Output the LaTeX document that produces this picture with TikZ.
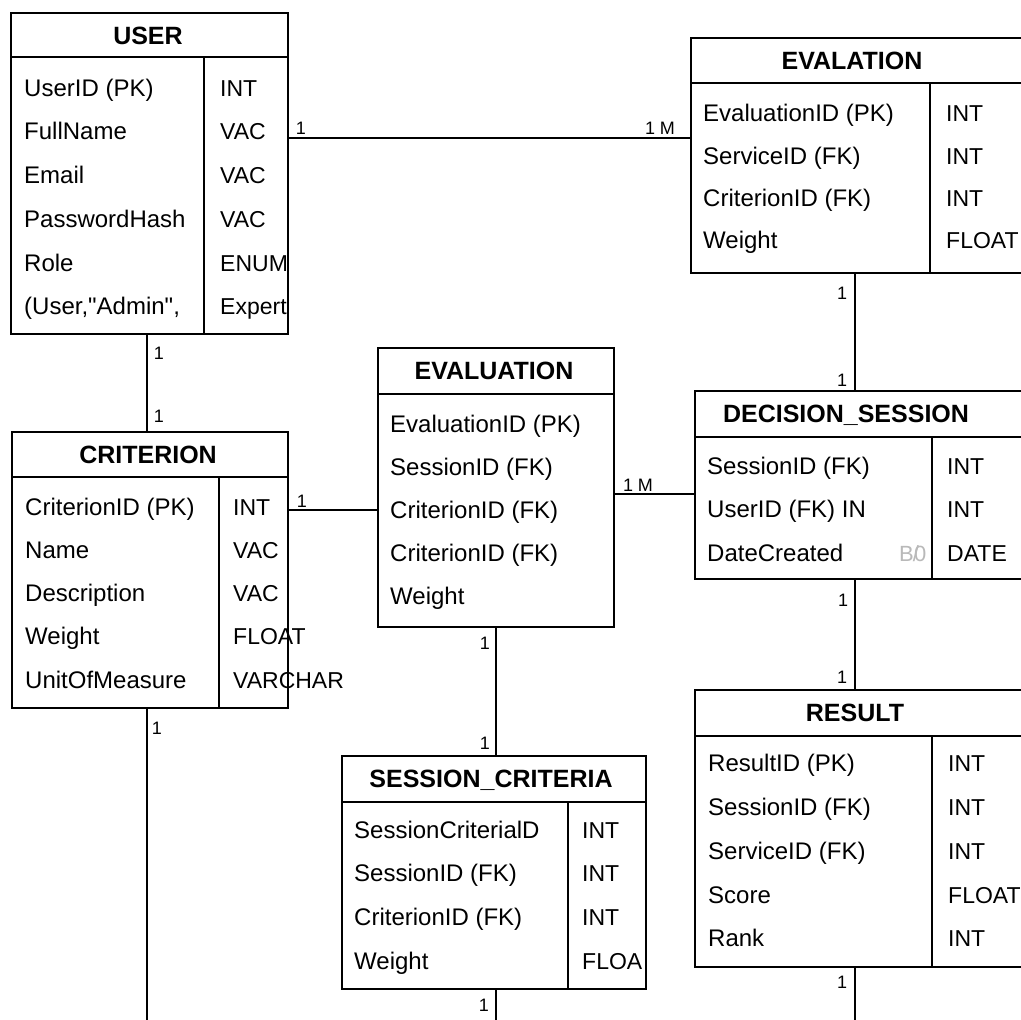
\documentclass[tikz,border=0pt]{standalone}
\usepackage{fontspec}
\setmainfont{Liberation Sans}
\newfontfamily\straightfont{Liberation Sans}[Ligatures=TeXOff]
\usetikzlibrary{calc}
\definecolor{ghost}{RGB}{185,185,185}
\tikzset{
  tbl/.style={draw, line width=2pt, anchor=north west, inner sep=0pt},
  rule/.style={line width=2pt},
  conn/.style={line width=1.6pt},
  ttl/.style={anchor=base, font=\fontsize{25}{30}\selectfont\bfseries, inner sep=0pt},
  fld/.style={anchor=base west, font=\fontsize{24}{29}\selectfont, inner sep=0pt},
  typ/.style={anchor=base west, font=\fontsize{23}{28}\selectfont, inner sep=0pt},
  card/.style={font=\fontsize{18}{21}\selectfont, inner sep=0pt},
}
\begin{document}
\begin{tikzpicture}[x=1pt,y=-1pt]
\useasboundingbox (0,0) rectangle (1021,1020);
\fill[white] (0,0) rectangle (1021,1020);
\clip (0,0) rectangle (1021,1020);

% ---------- table frames ----------
\node[tbl, minimum width=277pt, minimum height=321pt] (user)       at (10,12)   {};
\node[tbl, minimum width=334pt, minimum height=235pt] (evalation)  at (690,37)  {};
\node[tbl, minimum width=276pt, minimum height=276pt] (crit)       at (11,431)  {};
\node[tbl, minimum width=236pt, minimum height=279pt] (evaluation) at (377,347) {};
\node[tbl, minimum width=330pt, minimum height=188pt] (decision)   at (694,390) {};
\node[tbl, minimum width=304pt, minimum height=233pt] (sessc)      at (341,755) {};
\node[tbl, minimum width=330pt, minimum height=277pt] (result)     at (694,689) {};

% ---------- header rules and column dividers ----------
\draw[rule] (10,57) -- (287,57);    \draw[rule] (204,57) -- (204,333);
\draw[rule] (690,83) -- (1024,83);  \draw[rule] (930,83) -- (930,272);
\draw[rule] (11,477) -- (287,477);  \draw[rule] (219,477) -- (219,707);
\draw[rule] (377,394) -- (613,394);
\draw[rule] (694,437) -- (1024,437); \draw[rule] (932,437) -- (932,578);
\draw[rule] (341,802) -- (645,802); \draw[rule] (568,802) -- (568,988);
\draw[rule] (694,736) -- (1024,736); \draw[rule] (932,736) -- (932,966);

% ---------- USER ----------
\node[ttl] (userT) at (148,44) {USER};
\node[fld] (u1) at (24,96.5)  {UserID (PK)};
\node[fld] (u2) at (24,139.5) {FullName};
\node[fld] (u3) at (24,183.5) {Email};
\node[fld] (u4) at (24,227.5) {PasswordHash};
\node[fld] (u5) at (24,271.5) {Role};
\node[fld] (u6) at (24,314.5) {\straightfont (User,"Admin",};
\node[typ] (ut1) at (220,96.5)  {INT};
\node[typ] (ut2) at (220,139.5) {VAC};
\node[typ] (ut3) at (220,183.5) {VAC};
\node[typ] (ut4) at (220,227.5) {VAC};
\node[typ] (ut5) at (220,271.5) {ENUM};
\node[typ] (ut6) at (220,314.5) {Expert};

% ---------- EVALATION ----------
\node[ttl] (evT) at (852,69) {EVALATION};
\node[fld] (e1) at (703,121)   {EvaluationID (PK)};
\node[fld] (e2) at (703,164.5) {ServiceID (FK)};
\node[fld] (e3) at (703,206.5) {CriterionID (FK)};
\node[fld] (e4) at (703,248.5) {Weight};
\node[typ] (et1) at (946,121)   {INT};
\node[typ] (et2) at (946,164.5) {INT};
\node[typ] (et3) at (946,206.5) {INT};
\node[typ] (et4) at (946,248.5) {FLOAT};

% ---------- CRITERION ----------
\node[ttl] (crT) at (148,463) {CRITERION};
\node[fld] (c1) at (25,515.5) {CriterionID (PK)};
\node[fld] (c2) at (25,558.5) {Name};
\node[fld] (c3) at (25,601.5) {Description};
\node[fld] (c4) at (25,644.5) {Weight};
\node[fld] (c5) at (25,688.5) {UnitOfMeasure};
\node[typ] (ct1) at (233,515.5) {INT};
\node[typ] (ct2) at (233,558.5) {VAC};
\node[typ] (ct3) at (233,601.5) {VAC};
\node[typ] (ct4) at (233,644.5) {FLOAT};
\node[typ] (ct5) at (233,688.5) {VARCHAR};

% ---------- EVALUATION ----------
\node[ttl] (evuT) at (494,379) {EVALUATION};
\node[fld] (v1) at (390,432.5) {EvaluationID (PK)};
\node[fld] (v2) at (390,475.5) {SessionID (FK)};
\node[fld] (v3) at (390,518.5) {CriterionID (FK)};
\node[fld] (v4) at (390,561.5) {CriterionID (FK)};
\node[fld] (v5) at (390,604.5) {Weight};

% ---------- DECISION_SESSION ----------
\node[ttl] (dsT) at (846,422) {DECISION\_SESSION};
\node[fld] (d1) at (707,474.5) {SessionID (FK)};
\node[fld] (d2) at (707,517.5) {UserID (FK) IN};
\node[fld] (d3) at (707,561.5) {DateCreated};
\node[anchor=base west, inner sep=0pt, text=ghost, font=\fontsize{22}{26}\selectfont]
  (dmark) at (899,561.5) {B\kern-1pt/\kern-5pt0};
\node[typ] (dt1) at (947,474.5) {INT};
\node[typ] (dt2) at (947,517.5) {INT};
\node[typ] (dt3) at (947,561.5) {DATE};

% ---------- SESSION_CRITERIA ----------
\node[ttl] (scT) at (491,787) {SESSION\_CRITERIA};
\node[fld] (s1) at (354,838.5) {SessionCriterialD};
\node[fld] (s2) at (354,881.5) {SessionID (FK)};
\node[fld] (s3) at (354,925.5) {CriterionID (FK)};
\node[fld] (s4) at (354,969.5) {Weight};
\node[typ] (st1) at (582,838.5) {INT};
\node[typ] (st2) at (582,881.5) {INT};
\node[typ] (st3) at (582,925.5) {INT};
\node[typ] (st4) at (582,969.5) {FLOA};

% ---------- RESULT ----------
\node[ttl] (rsT) at (855,721) {RESULT};
\node[fld] (r1) at (708,771.5) {ResultID (PK)};
\node[fld] (r2) at (708,815.5) {SessionID (FK)};
\node[fld] (r3) at (708,859.5) {ServiceID (FK)};
\node[fld] (r4) at (708,903.5) {Score};
\node[fld] (r5) at (708,946.5) {Rank};
\node[typ] (rt1) at (948,771.5) {INT};
\node[typ] (rt2) at (948,815.5) {INT};
\node[typ] (rt3) at (948,859.5) {INT};
\node[typ] (rt4) at (948,903.5) {FLOAT};
\node[typ] (rt5) at (948,946.5) {INT};

% ---------- connector guides ----------
\coordinate (yUE) at (0,138);
\coordinate (yCE) at (0,510);
\coordinate (yED) at (0,494);
\coordinate (xL)  at (147,0);
\coordinate (xM)  at (496,0);
\coordinate (xR)  at (855,0);
\coordinate (bottomL) at (147,1024);
\coordinate (bottomM) at (496,1024);
\coordinate (bottomR) at (855,1024);

% ---------- relationships ----------
\draw[conn] (user.east |- yUE) -- (evalation.west |- yUE);
\draw[conn] (user.south -| xL) -- (crit.north -| xL);
\draw[conn] (crit.south -| xL) -- (bottomL);
\draw[conn] (crit.east |- yCE) -- (evaluation.west |- yCE);
\draw[conn] (evaluation.east |- yED) -- (decision.west |- yED);
\draw[conn] (evalation.south -| xR) -- (decision.north -| xR);
\draw[conn] (decision.south -| xR) -- (result.north -| xR);
\draw[conn] (result.south -| xR) -- (bottomR);
\draw[conn] (evaluation.south -| xM) -- (sessc.north -| xM);
\draw[conn] (sessc.south -| xM) -- (bottomM);

% ---------- cardinalities ----------
\node[card] (k1)  at (301,128) {1};
\node[card] (k2)  at (660,128) {1 M};
\node[card] (k3)  at (159,353) {1};
\node[card] (k4)  at (159,416) {1};
\node[card] (k5)  at (302,501) {1};
\node[card] (k6)  at (638,485) {1 M};
\node[card] (k7)  at (157,728) {1};
\node[card] (k8)  at (842,293) {1};
\node[card] (k9)  at (842,380) {1};
\node[card] (k10) at (843,600) {1};
\node[card] (k11) at (842,677) {1};
\node[card] (k12) at (842,982) {1};
\node[card] (k13) at (485,643) {1};
\node[card] (k14) at (485,743) {1};
\node[card] (k15) at (484,1005) {1};
\end{tikzpicture}
\end{document}
